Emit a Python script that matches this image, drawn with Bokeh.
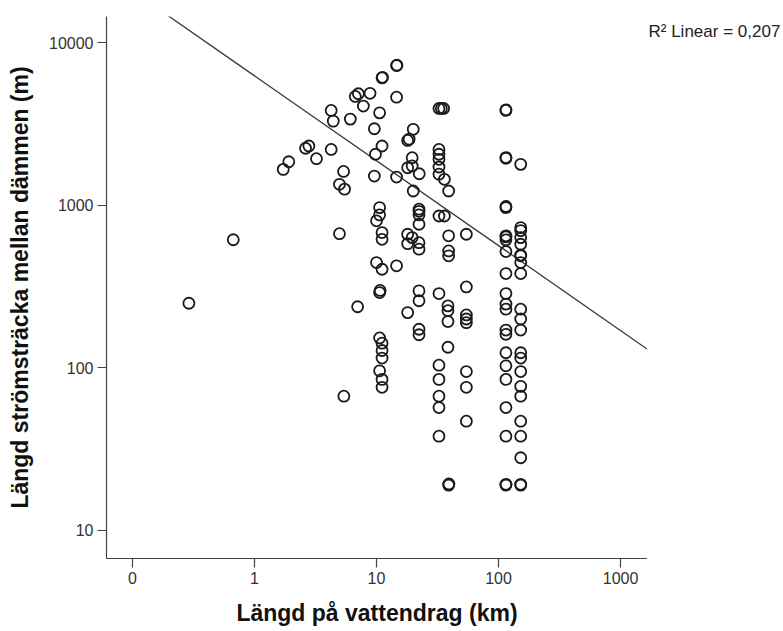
import numpy as np
from bokeh.plotting import figure
from bokeh.layouts import row
from bokeh.models import FixedTicker, CustomJSTickFormatter, Range1d, ColumnDataSource, Label
from bokeh.embed import file_html
from bokeh.resources import INLINE

# ---- data (log-log scatter) ----
river_km = [
    0.29, 0.67, 1.72, 1.91, 2.62, 2.79, 3.22, 4.25, 4.25, 4.42, 5.37, 4.97, 5.47, 4.97, 5.4,
    6.1, 6.7, 7.1, 7.8, 7.0, 8.85,
    9.6, 10.6, 11.1, 11.2, 11.1, 9.8, 9.6, 10.6, 10.6, 10.0, 11.1, 11.1, 10.0, 11.1, 10.6, 10.7,
    10.6, 11.1, 11.1, 11.1, 10.6, 11.1, 11.1,
    14.6, 14.7, 14.6, 14.6, 14.6,
    20.0, 18.0, 18.5, 19.6, 18.0, 19.6, 22.4, 20.0, 22.3, 22.3, 22.3, 22.3, 18.0, 19.6, 18.0,
    22.3, 22.3, 18.0, 22.3, 22.3, 22.3, 22.3,
    32.5, 34.0, 35.5, 32.5, 32.5, 32.5, 32.5, 32.5, 36.0, 39.0, 32.5, 36.0, 39.0, 39.0, 39.0,
    32.5, 38.5, 38.5, 38.5, 38.5, 32.5, 32.5, 32.5, 32.5, 32.5, 39.0, 39.2,
    54.5, 54.5, 54.5, 54.5, 54.5, 54.5, 54.5, 54.5,
    115, 115, 115, 115, 115, 115, 115, 115, 115, 115, 115, 115, 115, 115, 115, 115, 115, 115,
    115, 115, 115, 115, 115,
    152, 152, 152, 152, 152, 152, 152, 152, 152, 152, 152, 152, 152, 152, 152, 152, 152, 152,
    152, 152, 152, 152,
]
stretch_m = [
    250, 615, 1667, 1858, 2250, 2323, 1941, 2213, 3846, 3304, 1620, 1350, 1260, 670, 67,
    3400, 4690, 4870, 4090, 238, 4900,
    2966, 3715, 6100, 6150, 2323, 2066, 1517, 970, 875, 804, 681, 619, 445, 405, 291, 300,
    153, 142, 128, 115, 96, 85, 76,
    7260, 7300, 4640, 1496, 425,
    2941, 2514, 2560, 1968, 1706, 1750, 1567, 1227, 948, 920, 875, 766, 665, 634, 582,
    590, 538, 219, 298, 259, 173, 160,
    3953, 3953, 3953, 2213, 2066, 1923, 1725, 1557, 1449, 1227, 861, 861, 650, 525, 490,
    287, 241, 225, 193, 134, 104, 85, 67, 57, 38, 19, 19.3,
    665, 315, 212, 200, 190, 95, 76, 47,
    3846, 3880, 1950, 1970, 970, 985, 650, 640, 614, 520, 381, 287, 247, 230, 171, 161, 124,
    103, 85, 57, 38, 19, 19.2,
    1790, 731, 634, 577, 495, 445, 381, 230, 200, 171, 124, 115, 95, 77, 67, 47, 38, 28,
    19, 19.2, 490, 700,
]

# fitted line (log10 space) and its statistic
fit_slope = -0.5226
fit_intercept = 3.798
r2_text = "R\u00b2 Linear = 0,207"

x_ticks = [0.1, 1, 10, 100, 1000]
y_ticks = [10, 100, 1000, 10000]
x_title = "Längd på vattendrag (km)"
y_title = "Längd strömsträcka mellan dämmen (m)"

x_lo, x_hi = 10 ** -1.213, 10 ** 3.221
y_lo, y_hi = 10 ** 0.827, 10 ** 4.163

p = figure(width=647, height=631, x_axis_type="log", y_axis_type="log",
           output_backend="svg", toolbar_location=None,
           x_range=Range1d(x_lo, x_hi), y_range=Range1d(y_lo, y_hi),
           min_border_left=106, min_border_right=0, min_border_top=16, min_border_bottom=73)
p.outline_line_color = None
p.background_fill_color = "white"
p.border_fill_color = "white"
p.xgrid.visible = False
p.ygrid.visible = False

fmt = CustomJSTickFormatter(code="return tick < 0.5 ? '0' : tick.toFixed(0);")
p.xaxis.ticker = FixedTicker(ticks=x_ticks, minor_ticks=[])
p.yaxis.ticker = FixedTicker(ticks=y_ticks, minor_ticks=[])
p.xaxis.formatter = fmt
p.yaxis.formatter = fmt

for ax in (p.xaxis[0], p.yaxis[0]):
    ax.axis_line_color = "#444444"
    ax.axis_line_width = 1.2
    ax.major_tick_line_color = "#444444"
    ax.major_tick_line_width = 1.2
    ax.major_tick_in = 0
    ax.major_tick_out = 9
    ax.minor_tick_line_color = None
    ax.major_label_text_font = "Liberation Sans"
    ax.major_label_text_font_size = "16px"
    ax.major_label_text_color = "#333333"
    ax.axis_label_text_font = "Liberation Sans"
    ax.axis_label_text_font_style = "bold"
    ax.axis_label_text_font_size = "23px"
    ax.axis_label_text_color = "#111111"

p.xaxis.axis_label = x_title
p.yaxis.axis_label = y_title
p.xaxis.major_label_standoff = 4
p.yaxis.major_label_standoff = 4
p.xaxis.axis_label_standoff = 13
p.yaxis.axis_label_standoff = 13

# regression line across the x range
lx = np.array([x_lo, x_hi])
ly = 10 ** (fit_intercept + fit_slope * np.log10(lx))
p.line(lx, ly, line_color="#3a3a3a", line_width=1.3)

src = ColumnDataSource(dict(x=river_km, y=stretch_m))
p.scatter("x", "y", source=src, marker="circle", size=11, fill_color=None,
          line_color="#1a1a1a", line_width=1.8)

# right-hand strip carrying the fit statistic (pixel-like data ranges, y from bottom)
strip_w, strip_h = 136, 631
p2 = figure(width=strip_w, height=strip_h, output_backend="svg", toolbar_location=None,
            x_axis_location=None, y_axis_location=None,
            min_border_left=0, min_border_right=0, min_border_top=0, min_border_bottom=0,
            x_range=Range1d(0, strip_w), y_range=Range1d(0, strip_h))
p2.outline_line_color = None
p2.xgrid.visible = False
p2.ygrid.visible = False
p2.add_layout(Label(x=1, y=strip_h - 17, text=r2_text,
                    text_align="left", text_baseline="middle",
                    text_font="Liberation Sans", text_font_size="17px", text_color="#222222"))

layout = row(p, p2, spacing=0)
open("out.html", "w").write(file_html(layout, INLINE))
